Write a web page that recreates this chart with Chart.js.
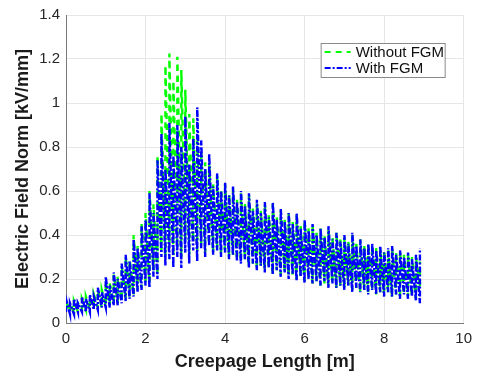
<!DOCTYPE html>
<html>
<head>
<meta charset="utf-8">
<script src="https://cdn.jsdelivr.net/npm/chart.js@4.4.1/dist/chart.umd.min.js"></script>
<style>
html, body { margin:0; padding:0; background:#fff; }
</style>
</head>
<body>
<canvas id="fieldChart" width="479" height="375"></canvas>
<script>
/* creepage position of each oscillation [m] */
const creepage = [
  0.0,0.1,0.2,0.3,0.4,0.5,0.6,0.7,0.8,0.9,
  1.0,1.1,1.2,1.3,1.4,1.5,1.6,1.7,1.8,1.9,
  2.0,2.1,2.2,2.3,2.4,2.5,2.6,2.7,2.8,2.9,
  3.0,3.1,3.2,3.3,3.4,3.5,3.6,3.7,3.8,3.9,
  4.0,4.1,4.2,4.3,4.4,4.5,4.6,4.7,4.8,4.9,
  5.0,5.1,5.2,5.3,5.4,5.5,5.6,5.7,5.8,5.9,
  6.0,6.1,6.2,6.3,6.4,6.5,6.6,6.7,6.8,6.9,
  7.0,7.1,7.2,7.3,7.4,7.5,7.6,7.7,7.8,7.9,
  8.0,8.1,8.2,8.3,8.4,8.5,8.6,8.7,8.8,8.9
];

/* Without FGM: low / high value of each oscillation [kV/mm] */
const withoutLow = [
  0.06,0.05,0.05,0.05,0.06,0.06,0.06,0.07,0.07,0.07,
  0.08,0.08,0.09,0.09,0.10,0.11,0.12,0.13,0.15,0.16,
  0.19,0.18,0.24,0.22,0.33,0.31,0.36,0.30,0.34,0.30,
  0.38,0.31,0.37,0.33,0.36,0.32,0.36,0.32,0.34,0.31,
  0.33,0.30,0.31,0.29,0.28,0.29,0.26,0.27,0.25,0.26,
  0.24,0.25,0.22,0.24,0.22,0.23,0.21,0.22,0.20,0.21,
  0.19,0.20,0.18,0.19,0.17,0.18,0.17,0.18,0.16,0.17,
  0.16,0.17,0.15,0.16,0.14,0.15,0.14,0.15,0.13,0.14,
  0.13,0.14,0.12,0.13,0.12,0.13,0.12,0.12,0.11,0.16
];
const withoutHigh = [
  0.10,0.09,0.10,0.09,0.11,0.12,0.12,0.13,0.15,0.15,
  0.19,0.18,0.22,0.21,0.26,0.30,0.29,0.40,0.35,0.45,
  0.50,0.60,0.54,0.76,0.95,1.17,1.225,1.10,1.21,1.15,
  1.06,0.95,0.93,0.83,0.78,0.73,0.72,0.63,0.67,0.61,
  0.63,0.59,0.61,0.56,0.59,0.54,0.58,0.52,0.55,0.51,
  0.54,0.49,0.54,0.48,0.51,0.47,0.50,0.46,0.49,0.44,
  0.46,0.43,0.45,0.41,0.43,0.40,0.43,0.39,0.41,0.38,
  0.39,0.37,0.40,0.36,0.38,0.35,0.36,0.35,0.34,0.34,
  0.33,0.33,0.34,0.32,0.32,0.31,0.31,0.30,0.30,0.28
];

/* With FGM: low / high value of each oscillation [kV/mm] */
const withLow = [
  0.05,0.04,0.04,0.05,0.05,0.05,0.05,0.06,0.06,0.07,
  0.07,0.07,0.08,0.08,0.09,0.10,0.11,0.12,0.14,0.15,
  0.17,0.16,0.21,0.20,0.30,0.26,0.29,0.25,0.30,0.25,
  0.32,0.27,0.33,0.28,0.34,0.30,0.35,0.31,0.33,0.30,
  0.32,0.29,0.31,0.28,0.27,0.29,0.25,0.27,0.24,0.26,
  0.23,0.25,0.22,0.24,0.21,0.23,0.20,0.22,0.19,0.21,
  0.18,0.20,0.18,0.19,0.17,0.19,0.16,0.18,0.16,0.17,
  0.15,0.17,0.14,0.16,0.14,0.15,0.13,0.15,0.13,0.14,
  0.12,0.14,0.12,0.13,0.11,0.13,0.11,0.12,0.10,0.09
];
const withHigh = [
  0.11,0.09,0.11,0.09,0.12,0.11,0.13,0.12,0.16,0.14,
  0.21,0.17,0.23,0.20,0.27,0.31,0.28,0.38,0.34,0.44,
  0.47,0.59,0.50,0.74,0.86,0.70,0.91,0.76,0.90,0.80,
  0.94,0.72,0.84,0.98,0.83,0.70,0.77,0.62,0.68,0.60,
  0.64,0.58,0.62,0.55,0.60,0.53,0.59,0.51,0.56,0.50,
  0.55,0.48,0.55,0.47,0.52,0.46,0.50,0.45,0.50,0.43,
  0.47,0.42,0.45,0.40,0.43,0.39,0.44,0.38,0.41,0.37,
  0.40,0.36,0.41,0.35,0.38,0.34,0.36,0.36,0.33,0.35,
  0.32,0.34,0.35,0.31,0.33,0.30,0.32,0.29,0.31,0.34
];

const xTickLabels = ['0', '2', '4', '6', '8', '10'];
const yTickLabels = ['0', '0.2', '0.4', '0.6', '0.8', '1', '1.2', '1.4'];
const seriesNames = ['Without FGM', 'With FGM'];

// low -> high at each position, so every oscillation is a near vertical stroke
function zigzag(lows, highs) {
  let pts = [];
  for (let i = 0; i < creepage.length; i++) {
    pts.push({x: creepage[i], y: lows[i]});
    pts.push({x: creepage[i], y: highs[i]});
  }
  return pts;
}

const FONT = '"Liberation Sans", Arial, Helvetica, sans-serif';
const GREEN = '#00ff00';
const BLUE = '#0000ff';
const GREEN_DASH = [6, 5];
const BLUE_DASH = [6, 2, 2, 2];

/* legend with a frame, drawn inside the plot, top right */
const boxLegend = {
  id: 'boxLegend',
  afterDatasetsDraw(chart) {
    const {ctx, chartArea} = chart;
    const x = chartArea.right - 143, y = chartArea.top + 28, w = 124, h = 34;
    ctx.save();
    ctx.fillStyle = '#fff';
    ctx.fillRect(x, y, w, h);
    ctx.strokeStyle = '#8a8a8a';
    ctx.lineWidth = 1;
    ctx.setLineDash([]);
    ctx.strokeRect(x + 0.5, y + 0.5, w, h);
    const rows = [
      {color: GREEN, dash: GREEN_DASH, name: seriesNames[0]},
      {color: BLUE, dash: BLUE_DASH, name: seriesNames[1]}
    ];
    rows.forEach((r, i) => {
      const ry = y + 9 + i * 16;
      ctx.strokeStyle = r.color;
      ctx.lineWidth = 2;
      ctx.setLineDash(r.dash);
      ctx.beginPath();
      ctx.moveTo(x + 4, ry);
      ctx.lineTo(x + 30, ry);
      ctx.stroke();
      ctx.setLineDash([]);
      ctx.fillStyle = '#111';
      ctx.font = '15px ' + FONT;
      ctx.textBaseline = 'middle';
      ctx.textAlign = 'left';
      ctx.fillText(r.name, x + 35, ry + 0.5);
    });
    ctx.restore();
  }
};

const ctx = document.getElementById('fieldChart').getContext('2d');
const fieldChart = new Chart(ctx, {
  type: 'line',
  data: {
    datasets: [{
      // drawn last -> on top
      label: seriesNames[1],
      data: zigzag(withLow, withHigh),
      borderColor: BLUE,
      borderWidth: 2.4,
      borderDash: BLUE_DASH,
      pointRadius: 0,
      tension: 0,
      fill: false
    }, {
      label: seriesNames[0],
      data: zigzag(withoutLow, withoutHigh),
      borderColor: GREEN,
      borderWidth: 2.4,
      borderDash: GREEN_DASH,
      pointRadius: 0,
      tension: 0,
      fill: false
    }]
  },
  options: {
    responsive: false,
    animation: false,
    layout: { padding: { left: 0, top: 13, right: 13, bottom: 0 } },
    plugins: {
      legend: { display: false },
      tooltip: { enabled: false }
    },
    scales: {
      x: {
        type: 'linear',
        min: 0,
        max: 10,
        afterFit: (s) => { s.height = 52; },
        ticks: {
          stepSize: 2,
          padding: 7,
          maxRotation: 0,
          color: '#262626',
          font: { family: FONT, size: 15 },
          callback: (v, i) => xTickLabels[i]
        },
        grid: { color: '#e6e6e6', drawTicks: false },
        border: { color: '#7a7a7a', width: 1 },
        title: {
          display: true,
          text: 'Creepage Length [m]',
          color: '#1a1a1a',
          font: { family: FONT, size: 18, weight: 'bold' },
          padding: { top: 0, bottom: 2 }
        }
      },
      y: {
        min: 0,
        max: 1.4,
        afterFit: (s) => { s.width = 66; },
        ticks: {
          stepSize: 0.2,
          padding: 6,
          color: '#262626',
          font: { family: FONT, size: 15 },
          callback: (v, i) => yTickLabels[i]
        },
        grid: { color: '#e6e6e6', drawTicks: false },
        border: { color: '#7a7a7a', width: 1 },
        title: {
          display: true,
          text: 'Electric Field Norm [kV/mm]',
          color: '#1a1a1a',
          font: { family: FONT, size: 18, weight: 'bold' },
          padding: { top: 12, bottom: 0 }
        }
      }
    }
  },
  plugins: [boxLegend]
});
</script>
</body>
</html>
